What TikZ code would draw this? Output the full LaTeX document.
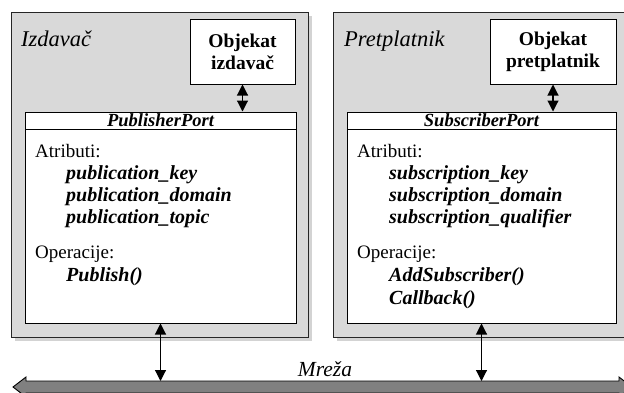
\documentclass[tikz,border=0pt]{standalone}
\usepackage{fontspec}
\setmainfont{Liberation Serif}
\usetikzlibrary{arrows.meta,shadows}

\begin{document}
\begin{tikzpicture}[x=1pt, y=-1pt, font=\fontsize{19}{22}\selectfont,
    outerbox/.style={rectangle, draw=black!85, line width=1pt, fill=black!15,
      drop shadow={shadow xshift=4pt, shadow yshift=-4pt, opacity=0.35}},
    objbox/.style={rectangle, draw, line width=1pt, fill=white, inner sep=0pt},
    portbox/.style={rectangle, draw, line width=1pt, fill=white, inner sep=0pt},
    biarrow/.style={{Triangle[length=11pt,width=11pt]}-{Triangle[length=11pt,width=11pt]}, line width=1.1pt},
    item/.style={anchor=base west, inner sep=0pt, font=\fontsize{20}{22}\selectfont\bfseries\itshape},
    plain/.style={anchor=base west, inner sep=0pt},
    tag/.style={anchor=base west, inner sep=0pt, font=\fontsize{22.5}{26}\selectfont\itshape}]
    \useasboundingbox (0,0) rectangle (624,392);

    % 箱を描く
    \node[outerbox, minimum width=297pt, minimum height=325pt] (izd) at (159.5,174.5) {};
    \node[outerbox, minimum width=296pt, minimum height=325pt] (pre) at (481,174.5) {};
    \node[objbox, minimum width=105pt, minimum height=65pt] (objI) at (242.5,51.5) {};
    \node[objbox, minimum width=126pt, minimum height=65pt] (objP) at (553,51.5) {};
    \node[portbox, minimum width=271pt, minimum height=211pt] (portI) at (160.5,217.5) {};
    \node[portbox, minimum width=269pt, minimum height=211pt] (portP) at (481.5,217.5) {};
    \node[portbox, minimum width=271pt, minimum height=17pt] (hdrI) at (160.5,120.5) {};
    \node[portbox, minimum width=269pt, minimum height=17pt] (hdrP) at (481.5,120.5) {};

    % ネットワーク
    \draw[line width=0.9pt, fill=black!50] (13,387) -- (26,377) -- (26,381) -- (619,381)
      -- (619,377) -- (632,387) -- (619,397) -- (619,393) -- (26,393) -- (26,397) -- cycle;
    \coordinate (netTop) at (0,381);

    % 矢印を引く
    \draw[biarrow] (objI.south) -- (objI.south |- hdrI.north);
    \draw[biarrow] (objP.south) -- (objP.south |- hdrP.north);
    \draw[biarrow] (portI.south) -- (portI.south |- netTop);
    \draw[biarrow] (portP.south) -- (portP.south |- netTop);

    % 文字を入れる
    \node[tag] at (21,46) {Izdavač};
    \node[tag] at (344,46) {Pretplatnik};
    \node[align=center, font=\fontsize{19.5}{22}\selectfont\bfseries] at (objI) {Objekat\\izdavač};
    \node[align=center, font=\fontsize{19.5}{22}\selectfont\bfseries] at (objP) {Objekat\\pretplatnik};
    \node[font=\fontsize{18.5}{20}\selectfont\bfseries\itshape, inner sep=0pt] at (hdrI) {PublisherPort};
    \node[font=\fontsize{18.5}{20}\selectfont\bfseries\itshape, inner sep=0pt] at (hdrP) {SubscriberPort};

    \node[plain] at (35,157) {Atributi:};
    \node[item] at (66,179) {publication\_key};
    \node[item] at (66,201) {publication\_domain};
    \node[item] at (66,223) {publication\_topic};
    \node[plain] at (35,258) {Operacije:};
    \node[item] at (66,281) {Publish()};

    \node[plain] at (357,157) {Atributi:};
    \node[item] at (389,179) {subscription\_key};
    \node[item] at (389,201) {subscription\_domain};
    \node[item] at (389,223) {subscription\_qualifier};
    \node[plain] at (357,258) {Operacije:};
    \node[item] at (389,281) {AddSubscriber()};
    \node[item] at (389,304) {Callback()};

    \node[anchor=base, inner sep=0pt, font=\fontsize{21.5}{24}\selectfont\itshape] at (325,376) {Mreža};
\end{tikzpicture}
\end{document}
